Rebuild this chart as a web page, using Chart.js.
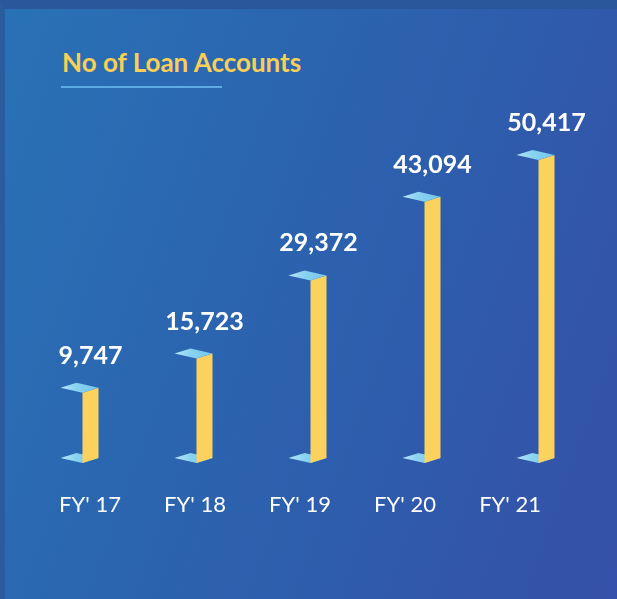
<!DOCTYPE html>
<html>
<head>
<meta charset="utf-8">
<script src="https://cdn.jsdelivr.net/npm/chart.js@4"></script>
<style>
  html, body { margin: 0; padding: 0; }
  body {
    width: 617px; height: 599px; position: relative; overflow: hidden;
    background: linear-gradient(110deg, #2972b6 0%, #2c61ae 50%, #3550a8 100%);
  }
  #frame {
    position: absolute; left: 0; top: 0; width: 617px; height: 599px;
    box-sizing: border-box;
    border-top: 9px solid #2a579b; border-left: 5px solid #2a5b9d;
  }
  #title {
    position: absolute; left: 62px; top: 46px;
    font: bold 26px Lato, sans-serif; color: #f9cf55; white-space: nowrap;
  }
  #rule {
    position: absolute; left: 61px; top: 86px; width: 161px; height: 2px;
    background: #5eaae2;
  }
  canvas { position: absolute; left: 0; top: 0; }
</style>
</head>
<body>
<div id="frame"></div>
<div id="title">No of Loan Accounts</div>
<div id="rule"></div>
<canvas id="chart" width="617" height="599"></canvas>
<script>
const years = ["FY' 17", "FY' 18", "FY' 19", "FY' 20", "FY' 21"];
const loanAccounts = [9747, 15723, 29372, 43094, 50417];

const yellow = '#fbd25e';

// draws each bar as a thin yellow strip with light blue plates at top and bottom
const barShape = {
  id: 'barShape',
  afterDatasetsDraw(chart) {
    const ctx = chart.ctx;
    chart.getDatasetMeta(0).data.forEach((bar, i) => {
      const p = bar.getProps(['x', 'y', 'base', 'width'], true);
      const xl = p.x - p.width / 2, xr = p.x + p.width / 2;
      const top = p.y, base = p.base;
      const slant = 5, depth = 22;

      const plate = (y) => {
        const g = ctx.createLinearGradient(xl - depth, 0, xr, 0);
        g.addColorStop(0, '#b8e7f8');
        g.addColorStop(0.4, '#8ad3f1');
        g.addColorStop(1, '#74c5ec');
        ctx.fillStyle = g;
        ctx.beginPath();
        ctx.moveTo(xl - depth, y);
        ctx.lineTo(xl - 6, y - slant);
        ctx.lineTo(xr, y);
        ctx.lineTo(xl, y + slant);
        ctx.closePath();
        ctx.fill();
      };

      ctx.save();
      plate(base);
      ctx.fillStyle = yellow;
      ctx.beginPath();
      ctx.moveTo(xl, top + slant);
      ctx.lineTo(xr, top);
      ctx.lineTo(xr, base);
      ctx.lineTo(xl, base + slant);
      ctx.closePath();
      ctx.fill();
      plate(top);

      ctx.fillStyle = '#ffffff';
      ctx.font = 'bold 25px Lato';
      ctx.textAlign = 'center';
      ctx.textBaseline = 'alphabetic';
      ctx.fillText(loanAccounts[i].toLocaleString('en-US'), p.x, top - 24);
      ctx.restore();
    });
  }
};

Chart.defaults.font.family = 'Lato';

new Chart(document.getElementById('chart'), {
  type: 'bar',
  data: {
    labels: years,
    datasets: [{
      data: loanAccounts,
      backgroundColor: 'rgba(0,0,0,0)',
      borderWidth: 0,
      barThickness: 16,
      base: -2500
    }]
  },
  options: {
    responsive: false,
    animation: false,
    layout: { padding: { left: 33.5, right: 13.5, top: 100, bottom: 46.6 } },
    plugins: {
      legend: { display: false },
      tooltip: { enabled: false }
    },
    scales: {
      x: { display: false },
      xl: {
        type: 'linear',
        position: 'bottom',
        offset: false,
        min: -0.538,
        max: 4.89,
        afterBuildTicks: (axis) => { axis.ticks = years.map((_, i) => ({ value: i })); },
        ticks: {
          callback: (v) => years[v],
          color: '#ffffff',
          font: { size: 22 },
          padding: 34,
          maxRotation: 0,
          autoSkip: false
        },
        grid: { display: false, drawTicks: false, offset: false },
        border: { display: false }
      },
      y: { display: false, min: -2500, max: 60000 }
    }
  },
  plugins: [barShape]
});
</script>
</body>
</html>
